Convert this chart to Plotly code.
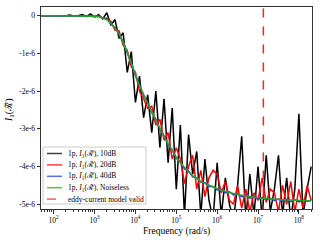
import plotly.graph_objects as go

# log10 of angular frequency grid (rad/s)
log_freq = [1.7, 1.8, 1.9, 2.0, 2.1, 2.2, 2.3, 2.4, 2.5, 2.6, 2.7, 2.8, 2.9, 3.0, 3.1, 3.2, 3.3, 3.4,
            3.5, 3.6, 3.7, 3.8, 3.9, 4.0, 4.1, 4.2, 4.3, 4.4, 4.5, 4.6, 4.7, 4.8, 4.9, 5.0, 5.1, 5.2,
            5.3, 5.4, 5.5, 5.6, 5.7, 5.8, 5.9, 6.0, 6.1, 6.2, 6.3, 6.4, 6.5, 6.6, 6.7, 6.8, 6.9, 7.0,
            7.1, 7.2, 7.3, 7.4, 7.5, 7.6, 7.7, 7.8, 7.9, 8.0, 8.1, 8.2, 8.3]

# values in units of 1e-6
noiseless = [0, 0, 0, 0, 0, 0, 0, 0, 0, 0, 0, 0, -0.005, -0.01, -0.02, -0.05, -0.1, -0.2,
             -0.32, -0.48, -0.70, -0.97, -1.26, -1.58, -1.85, -2.09, -2.33, -2.55, -2.76, -3.0,
             -3.2, -3.4, -3.58, -3.75, -3.9, -4.03, -4.14, -4.24, -4.32, -4.39, -4.45, -4.5,
             -4.55, -4.59, -4.63, -4.66, -4.69, -4.72, -4.74, -4.76, -4.78, -4.8, -4.81, -4.83,
             -4.84, -4.85, -4.86, -4.87, -4.875, -4.88, -4.885, -4.89, -4.895, -4.9, -4.9,
             -4.905, -4.91]

db40 = [0, 0, 0, 0, 0, 0, 0, 0, 0, 0, 0, 0, -0.005, -0.01, -0.02, -0.06, -0.09, -0.21,
        -0.31, -0.5, -0.69, -0.99, -1.24, -1.6, -1.83, -2.11, -2.31, -2.57, -2.74, -3.03,
        -3.18, -3.43, -3.56, -3.78, -3.88, -4.06, -4.12, -4.27, -4.3, -4.42, -4.43, -4.53,
        -4.53, -4.62, -4.61, -4.7, -4.67, -4.75, -4.72, -4.8, -4.76, -4.84, -4.79, -4.87,
        -4.82, -4.88, -4.84, -4.9, -4.86, -4.92, -4.87, -4.93, -4.88, -4.94, -4.89,
        -4.92, -4.9]

db20 = [0, 0.0, 0.01, 0.0, -0.01, 0.0, 0.01, 0.0, -0.01, 0.0, 0.01, -0.01, 0.0, -0.03, 0.0,
        -0.08, -0.06, -0.15, -0.38, -0.4, -0.78, -0.92, -1.35, -1.5, -2.0, -2.2, -2.45, -2.4,
        -2.9, -2.75, -3.3, -3.1, -3.8, -3.5, -3.8, -4.45, -4.0, -3.7, -4.6, -4.1, -4.8, -4.3,
        -4.1, -4.2, -4.7, -4.4, -4.9, -5.0, -4.5, -5.1, -4.6, -5.2, -4.7, -4.9, -4.3, -4.95,
        -4.6, -4.7, -5.2, -4.5, -5.0, -4.4, -5.2, -4.6, -5.1, -4.5, -4.9]

db10 = [0, 0.0, -0.01, 0.0, 0.01, -0.01, 0.0, 0.02, -0.01, 0.0, 0.03, -0.02, 0.05, -0.03, 0.03,
        -0.08, 0.08, -0.25, -0.1, -0.6, -0.45, -1.5, -0.95, -2.3, -1.6, -2.7, -2.1, -3.1, -2.0,
        -3.5, -2.2, -3.9, -2.45, -4.6, -2.9, -5.3, -3.15, -4.2, -3.6, -5.3, -3.8, -4.9, -5.4,
        -3.9, -5.3, -4.3, -5.0, -5.4, -4.5, -3.2, -5.4, -4.2, -5.3, -4.0, -5.4, -3.7, -5.2,
        -4.6, -3.7, -5.3, -4.3, -5.4, -4.6, -2.6, -5.3, -4.6, -4.0]

eddy_limit = [1.35e7]
eddy_span = [-5.3, 0.4]

x_ticks_exp = [2, 3, 4, 5, 6, 7, 8]
y_ticks = [0, -1, -2, -3, -4, -5]
y_tick_labels = ["0", "-1e-6", "-2e-6", "-3e-6", "-4e-6", "-5e-6"]

freq = [10 ** v for v in log_freq]
scale = 1e-6
lab = "1p, <i>I</i><sub>1</sub>(ℛ̃), "

series = [(db10, "black", "10dB"), (db20, "#ff0000", "20dB"),
          (db40, "#1f3fe0", "40dB"), (noiseless, "#2ca02c", "Noiseless")]

fig = go.Figure()
for vals, col, name in series:
    fig.add_trace(go.Scatter(x=freq, y=[v * scale for v in vals], mode="lines",
                             line=dict(color=col, width=1.5), name=lab + name,
                             showlegend=False))
fig.add_trace(go.Scatter(x=[eddy_limit[0]] * 2, y=[v * scale for v in eddy_span], mode="lines",
                         line=dict(color="#ff2020", width=1.5, dash="dash"),
                         name="eddy-current model valid", showlegend=False))

# plot area in pixels
L, R, T, B = 41, 312, 7, 209
W, H = R - L, B - T


def px(x):
    return (x - L) / W


def py(y):
    return (B - y) / H


shapes = [dict(type="rect", xref="paper", yref="paper", x0=px(43), x1=px(146), y0=py(204), y1=py(147),
               line=dict(color="#cccccc", width=1), fillcolor="rgba(255,255,255,0.8)", layer="above")]
annotations = []
legend_items = [("black", "solid", lab + "10dB"), ("#ff0000", "solid", lab + "20dB"),
                ("#1f3fe0", "solid", lab + "40dB"), ("#2ca02c", "solid", lab + "Noiseless"),
                ("#ff2020", "dash", "eddy-current model valid")]
font = "Liberation Serif"
for i, (col, dash, text) in enumerate(legend_items):
    yy = 153.5 + i * 11.4
    shapes.append(dict(type="line", xref="paper", yref="paper", x0=px(47), x1=px(62), y0=py(yy), y1=py(yy),
                       line=dict(color=col, width=1.5, dash="dash" if dash == "dash" else "solid"),
                       opacity=0.75, layer="above"))
    annotations.append(dict(xref="paper", yref="paper", x=px(66), y=py(yy), text=text, showarrow=False,
                            xanchor="left", yanchor="middle", font=dict(size=7.5, family=font)))

annotations.append(dict(xref="paper", yref="paper", x=px(176), y=py(231), text="Frequency (rad/s)",
                        showarrow=False, xanchor="center", yanchor="middle",
                        font=dict(size=9.5, family=font)))
annotations.append(dict(xref="paper", yref="paper", x=px(9), y=py(110), text="<i>I</i><sub>1</sub>(ℛ̃)",
                        showarrow=False, xanchor="center", yanchor="middle", textangle=-90,
                        font=dict(size=10, family=font)))

minor = [m * 10 ** e for e in range(1, 9) for m in range(2, 10) if 50 <= m * 10 ** e <= 2.1e8]
fig.update_layout(
    width=320, height=240,
    margin=dict(l=L, r=320 - R, t=T, b=240 - B),
    paper_bgcolor="white", plot_bgcolor="white",
    font=dict(family=font, size=7.5, color="black"),
    showlegend=False,
    shapes=shapes, annotations=annotations,
    xaxis=dict(type="log", range=[1.69, 8.32], showline=True, mirror=True, automargin=False,
               linecolor="#333333", linewidth=1, showgrid=False, zeroline=False,
               tickvals=[10 ** e for e in x_ticks_exp],
               ticktext=["10<sup>%d</sup>" % e for e in x_ticks_exp],
               ticks="outside", ticklen=3.5, tickcolor="#333333",
               minor=dict(tickvals=minor, ticks="outside", ticklen=2, tickcolor="#333333")),
    yaxis=dict(range=[-5.126e-6, 0.233e-6], showline=True, mirror=True, automargin=False,
               linecolor="#333333", linewidth=1, showgrid=False, zeroline=False,
               tickvals=[v * scale for v in y_ticks], ticktext=y_tick_labels,
               ticks="outside", ticklen=3.5, tickcolor="#333333"),
)
fig.write_html("out.html", config={"displayModeBar": False},
               post_script="document.body.style.margin='0px';document.body.style.overflow='hidden';")
